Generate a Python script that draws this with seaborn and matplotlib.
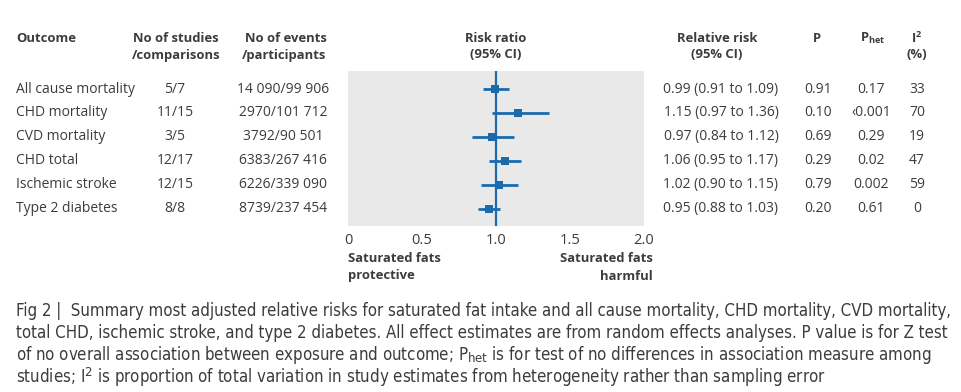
import matplotlib
matplotlib.use("Agg")
import matplotlib.pyplot as plt
import seaborn as sns
import pandas as pd
from matplotlib import font_manager as fm
from matplotlib.transforms import blended_transform_factory

# ---- data ----
outcomes = ["All cause mortality", "CHD mortality", "CVD mortality",
            "CHD total", "Ischemic stroke", "Type 2 diabetes"]
studies = ["5/7", "11/15", "3/5", "12/17", "12/15", "8/8"]
events = ["14 090/99 906", "2970/101 712", "3792/90 501",
          "6383/267 416", "6226/339 090", "8739/237 454"]
rr = [0.99, 1.15, 0.97, 1.06, 1.02, 0.95]
lo = [0.91, 0.97, 0.84, 0.95, 0.90, 0.88]
hi = [1.09, 1.36, 1.12, 1.17, 1.15, 1.03]
rr_text = ["0.99 (0.91 to 1.09)", "1.15 (0.97 to 1.36)", "0.97 (0.84 to 1.12)",
           "1.06 (0.95 to 1.17)", "1.02 (0.90 to 1.15)", "0.95 (0.88 to 1.03)"]
p_vals = ["0.91", "0.10", "0.69", "0.29", "0.79", "0.20"]
p_het = ["0.17", "‹0.001", "0.29", "0.02", "0.002", "0.61"]
i2 = ["33", "70", "19", "47", "59", "0"]
xticks = [0, 0.5, 1.0, 1.5, 2.0]
xtick_labels = ["0", "0.5", "1.0", "1.5", "2.0"]

df = pd.DataFrame({"outcome": outcomes, "rr": rr, "lo": lo, "hi": hi,
                   "row": range(len(outcomes))})

BLUE = "#1b6aab"
GREY = "#e9e9e9"
TXT = "#3c3c3c"
FONT = "Open Sans"

sns.set_theme(style="white")
plt.rcParams["font.family"] = [FONT, "DejaVu Sans"]
plt.rcParams["mathtext.fontset"] = "custom"
plt.rcParams["mathtext.rm"] = FONT
plt.rcParams["mathtext.it"] = FONT
plt.rcParams["mathtext.bf"] = FONT + ":bold"

# choose a condensed family for the caption if one is installed
names = {f.name for f in fm.fontManager.ttflist}
cond = [f for f in fm.fontManager.ttflist
        if f.name == "DejaVu Sans" and "ondensed" in str(f.stretch) + f.fname
        and f.weight in (400, "normal")]
if "Liberation Sans Narrow" in names:
    cap_family, cap_stretch, cfs = "Liberation Sans Narrow", "normal", 13.5
elif cond:
    cap_family, cap_stretch, cfs = "DejaVu Sans", "condensed", 12.1
else:
    cap_family, cap_stretch, cfs = "Lato", "normal", 12.5

W, H = 962, 392
fig = plt.figure(figsize=(W / 100, H / 100), dpi=100)
fig.patch.set_facecolor("white")

ax_l, ax_r, ax_t, ax_b = 348, 644, 71, 226
ax = fig.add_axes([ax_l / W, 1 - ax_b / H, (ax_r - ax_l) / W, (ax_b - ax_t) / H])
ax.set_facecolor(GREY)
for s in ax.spines.values():
    s.set_visible(False)

ax.axvline(1.0, color=BLUE, lw=1.6, zorder=2)
ax.hlines(df["row"], df["lo"], df["hi"], color=BLUE, lw=2.0, zorder=3)
sns.scatterplot(data=df, x="rr", y="row", marker="s", s=36, color=BLUE,
                edgecolor=BLUE, linewidth=0, ax=ax, zorder=4)
ax.set_xlim(0, 2.0)
ax.set_ylim(5.73, -0.756)
ax.set_xticks(xticks)
ax.set_xticklabels(xtick_labels)
ax.set_yticks([])
ax.set_xlabel("")
ax.set_ylabel("")
ax.tick_params(axis="x", direction="in", length=4, width=1.5, colors="white",
               labelcolor=TXT, labelsize=10.5, pad=5)

fs = 10.0
tr = blended_transform_factory(fig.transFigure, ax.transData)

def fx(px):
    return px / W

def fy(py):
    return 1 - py / H

for i in range(len(outcomes)):
    ax.text(fx(16), i, outcomes[i], transform=tr, ha="left", va="center",
            fontsize=fs, color=TXT)
    ax.text(fx(175), i, studies[i], transform=tr, ha="center", va="center",
            fontsize=fs, color=TXT)
    ax.text(fx(283), i, events[i], transform=tr, ha="center", va="center",
            fontsize=fs, color=TXT)
    ax.text(fx(721), i, rr_text[i], transform=tr, ha="center", va="center",
            fontsize=fs, color=TXT)
    ax.text(fx(818), i, p_vals[i], transform=tr, ha="center", va="center",
            fontsize=fs, color=TXT)
    ax.text(fx(871), i, p_het[i], transform=tr, ha="center", va="center",
            fontsize=fs, color=TXT)
    ax.text(fx(917), i, i2[i], transform=tr, ha="center", va="center",
            fontsize=fs, color=TXT)

hkw = dict(fontsize=9.4, color=TXT, fontweight="bold", va="center")
y1, y2 = 38, 55
fig.text(fx(16), fy(y1), "Outcome", ha="left", **hkw)
fig.text(fx(176), fy(y1), "No of studies", ha="center", **hkw)
fig.text(fx(176), fy(y2), "/comparisons", ha="center", **hkw)
fig.text(fx(286), fy(y1), "No of events", ha="center", **hkw)
fig.text(fx(284), fy(y2), "/participants", ha="center", **hkw)
fig.text(fx(496), fy(y1), "Risk ratio", ha="center", **hkw)
fig.text(fx(496), fy(y2), "(95% CI)", ha="center", **hkw)
fig.text(fx(717), fy(y1), "Relative risk", ha="center", **hkw)
fig.text(fx(717), fy(y2), "(95% CI)", ha="center", **hkw)
fig.text(fx(817), fy(y1), "P", ha="center", **hkw)
fig.text(fx(873), fy(y1), r"P$_{\mathbf{het}}$", ha="center", **hkw)
fig.text(fx(917), fy(y1), r"I$^{\mathbf{2}}$", ha="center", **hkw)
fig.text(fx(917), fy(y2), "(%)", ha="center", **hkw)

fig.text(fx(348), fy(259), "Saturated fats", ha="left", **hkw)
fig.text(fx(348), fy(276), "protective", ha="left", **hkw)
fig.text(fx(653), fy(259), "Saturated fats", ha="right", **hkw)
fig.text(fx(653), fy(276), "harmful", ha="right", **hkw)

caption = [
    "Fig 2 |  Summary most adjusted relative risks for saturated fat intake and all cause mortality, CHD mortality, CVD mortality,",
    "total CHD, ischemic stroke, and type 2 diabetes. All effect estimates are from random effects analyses. P value is for Z test",
    r"of no overall association between exposure and outcome; P$_{\rm het}$ is for test of no differences in association measure among",
    r"studies; I$^{2}$ is proportion of total variation in study estimates from heterogeneity rather than sampling error",
]
plt.rcParams["mathtext.rm"] = cap_family
for k, line in enumerate(caption):
    fig.text(fx(16), fy(311 + 22 * k), line, ha="left", va="center",
             fontsize=cfs, color=TXT, family=[cap_family, "DejaVu Sans"],
             fontstretch=cap_stretch)

fig.savefig("out.png", dpi=100, facecolor="white")
